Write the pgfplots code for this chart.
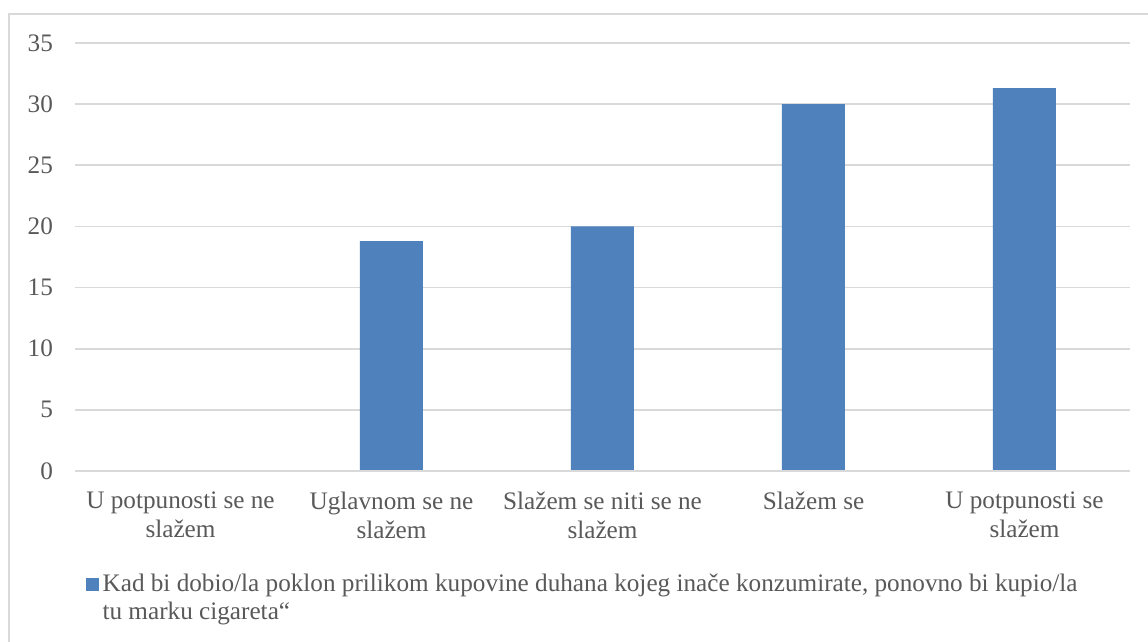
\documentclass[border=0pt]{standalone}
\usepackage{pgfplots}
\pgfplotsset{compat=1.18}
\usepackage{fontspec}
\setmainfont{Liberation Serif}
\definecolor{barblue}{HTML}{4F81BD}
\definecolor{gridgray}{HTML}{D9D9D9}
\definecolor{txtgray}{HTML}{595959}
\begin{document}
\begin{tikzpicture}[x=1pt,y=1pt]
\useasboundingbox (0,0) rectangle (574,321);
\draw[gridgray,line width=0.8pt] (4.5,0) -- (4.5,314) -- (574,314);
\begin{axis}[
  at={(37.5pt,85.5pt)}, anchor=south west,
  scale only axis, width=527.5pt, height=214pt,
  xmin=-0.5, xmax=4.5, ymin=0, ymax=35,
  ytick={0,5,...,35},
  xtick=data,
  xticklabels={{U potpunosti se ne\\slažem},{Uglavnom se ne\\slažem},{Slažem se niti se ne\\slažem},{Slažem se},{U potpunosti se\\slažem}},
  axis line style={draw=none},
  ymajorgrids, grid style={gridgray, line width=0.8pt},
  major tick length=0pt,
  tick label style={font=\fontsize{12.6}{14.5}\selectfont, text=txtgray},
  xticklabel style={align=center, anchor=north, yshift=-7pt},
  yticklabel style={xshift=-7.5pt},
  /pgf/number format/assume math mode=true,
  legend style={at={(0.004,-0.222)}, anchor=north west, draw=none, font=\fontsize{12.6}{14}\selectfont, text=txtgray, nodes={align=left}},
  legend cell align=left,
  legend image code/.code={\fill[barblue] (0pt,-3.2pt+7pt) rectangle (6.5pt,3.3pt+7pt);},
  clip=false,
]
\addplot[ybar, bar width=31.5pt, fill=barblue, draw=none] coordinates {(0,0) (1,18.8) (2,20) (3,30) (4,31.3)};
\addlegendentry{Kad bi dobio/la poklon prilikom kupovine duhana kojeg inače konzumirate, ponovno bi kupio/la\\tu marku cigareta“}
\draw[gridgray, line width=0.8pt] (axis cs:-0.5,0) -- (axis cs:4.5,0);
\end{axis}
\end{tikzpicture}
\end{document}
